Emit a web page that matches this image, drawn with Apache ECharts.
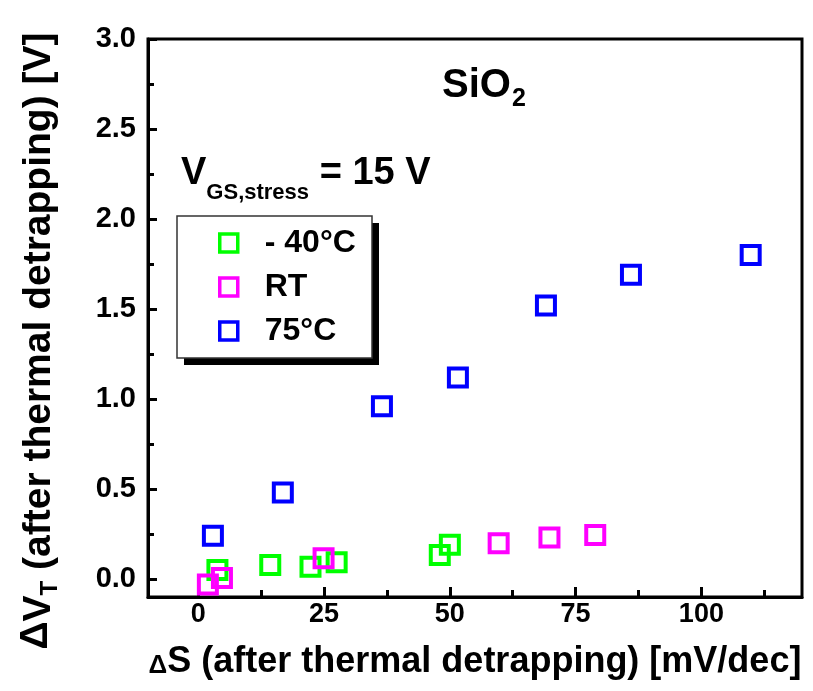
<!DOCTYPE html>
<html>
<head>
<meta charset="utf-8">
<script src="https://cdn.jsdelivr.net/npm/echarts@6/dist/echarts.min.js"></script>
<style>
    html, body { margin: 0; padding: 0; background: #fff; }
    #main { width: 813px; height: 691px; }
</style>
</head>
<body>
<div id="main"></div>
<script>
/* data: [dS (mV/dec), dVT (V)] */
var seriesNames = ['- 40°C', 'RT', '75°C'];
var seriesColors = ['#00ff00', '#ff00ff', '#0000ff'];
var minus40 = [[3.8, 0.05], [14.3, 0.078], [22.3, 0.068], [27.5, 0.093], [48, 0.133], [50, 0.19]];
var roomT = [[1.9, -0.03], [4.7, 0.006], [24.9, 0.115], [59.7, 0.198], [69.8, 0.23], [78.9, 0.244]];
var hot75 = [[2.9, 0.24], [16.8, 0.48], [36.5, 0.96], [51.6, 1.12], [69.1, 1.52], [86, 1.69], [109.8, 1.80]];
var xTicks = [0, 25, 50, 75, 100];
var xMinorTicks = [12.5, 37.5, 62.5, 87.5, 112.5];
var yTicks = [0, 0.5, 1.0, 1.5, 2.0, 2.5, 3.0];
var yMinorTicks = [0.25, 0.75, 1.25, 1.75, 2.25, 2.75];

var initChart = function () {
    var dom = document.getElementById('main');
    var myChart = echarts.init(dom);
    var font = '"Liberation Sans", Arial, sans-serif';
    var allData = [minus40, roomT, hot75];
    var series = [];
    allData.forEach(function (d, i) {
        series.push({
            name: seriesNames[i],
            type: 'scatter',
            data: d,
            symbol: 'rect',
            symbolSize: 18,
            z: 3,
            itemStyle: {
                color: 'rgba(255,255,255,0)',
                borderColor: seriesColors[i],
                borderWidth: 4,
                opacity: 1
            },
            emphasis: { disabled: true }
        });
    });

    var axisLineStyle = { color: '#000', width: 3 };
    var option = {
        animation: false,
        textStyle: { fontFamily: font },
        title: [{
            text: '{a|SiO}{b|2}',
            left: 437,
            top: 61,
            textStyle: {
                rich: {
                    a: { fontSize: 40, fontWeight: 'bold', fontFamily: font, color: '#000', verticalAlign: 'top' },
                    b: { fontSize: 25, fontFamily: font, color: '#000', verticalAlign: 'top', padding: [21, 0, 0, 1] }
                }
            }
        }, {
            text: '{a|V}{b|GS,stress}{a| = 15 V}',
            left: 176,
            top: 150,
            textStyle: {
                rich: {
                    a: { fontSize: 38, fontWeight: 'bold', fontFamily: font, color: '#000', verticalAlign: 'top' },
                    b: { fontSize: 22, fontWeight: 'bold', fontFamily: font, color: '#000', verticalAlign: 'top', padding: [27, 0, 0, 0] }
                }
            }
        }],
        graphic: [{
            type: 'rect',
            z: 1,
            shape: { x: 184, y: 223, width: 195, height: 142 },
            style: { fill: '#000' }
        }, {
            type: 'rect',
            z: 2,
            shape: { x: 177, y: 216, width: 195, height: 142 },
            style: { fill: '#fff', stroke: '#333', lineWidth: 1.5 }
        }],
        legend: {
            orient: 'vertical',
            left: 177,
            top: 216,
            z: 10,
            padding: [11, 14, 11, 41],
            itemGap: 12,
            itemWidth: 18,
            itemHeight: 18,
            itemStyle: { borderWidth: 3.5 },
            data: seriesNames,
            textStyle: {
                fontSize: 32,
                fontWeight: 'bold',
                fontFamily: font,
                color: '#000',
                padding: [0, 0, 0, 22]
            }
        },
        grid: {
            left: 148,
            right: 11,
            top: 39,
            bottom: 94,
            show: true,
            borderColor: '#000',
            borderWidth: 3,
            containLabel: false
        },
        xAxis: [{
            type: 'value',
            min: -10,
            max: 120,
            name: '{d|Δ}S (after thermal detrapping) [mV/dec]',
            nameLocation: 'middle',
            nameGap: 47,
            nameTextStyle: {
                fontSize: 36,
                fontWeight: 'bold',
                fontFamily: font,
                color: '#000',
                rich: {
                    d: { fontSize: 26, fontWeight: 'bold', fontFamily: font, color: '#000', padding: [8, 0, 0, 0] }
                }
            },
            axisLine: { onZero: false, lineStyle: axisLineStyle },
            axisTick: { inside: true, length: 10, customValues: xTicks, lineStyle: { color: '#000', width: 3 } },
            axisLabel: {
                customValues: xTicks,
                margin: 4,
                fontSize: 27,
                fontWeight: 'bold',
                fontFamily: font,
                color: '#000'
            },
            splitLine: { show: false }
        }, {
            type: 'value',
            min: -10,
            max: 120,
            position: 'bottom',
            axisLine: { show: false, onZero: false },
            axisTick: { inside: true, length: 7, customValues: xMinorTicks, lineStyle: { color: '#000', width: 3 } },
            axisLabel: { show: false },
            splitLine: { show: false }
        }],
        yAxis: [{
            type: 'value',
            min: -0.1,
            max: 3.0,
            name: '{d|Δ}V{s|T} (after thermal detrapping) [V]',
            nameLocation: 'middle',
            nameGap: 86,
            nameTextStyle: {
                fontSize: 39,
                fontWeight: 'bold',
                fontFamily: font,
                color: '#000',
                padding: [0, 46, 0, 0],
                rich: {
                    d: { fontSize: 39, fontFamily: font, color: '#000', verticalAlign: 'top' },
                    s: { fontSize: 24, fontFamily: font, color: '#000', verticalAlign: 'top', padding: [21, 0, 0, 0] }
                }
            },
            axisLine: { onZero: false, lineStyle: axisLineStyle },
            axisTick: { inside: true, length: 9, customValues: yTicks, lineStyle: { color: '#000', width: 3 } },
            axisLabel: {
                customValues: yTicks,
                margin: 12,
                fontSize: 29,
                fontWeight: 'bold',
                fontFamily: font,
                color: '#000',
                formatter: function (v) { return v.toFixed(1); }
            },
            splitLine: { show: false }
        }, {
            type: 'value',
            min: -0.1,
            max: 3.0,
            position: 'left',
            axisLine: { show: false, onZero: false },
            axisTick: { inside: true, length: 6, customValues: yMinorTicks, lineStyle: { color: '#000', width: 3 } },
            axisLabel: { show: false },
            splitLine: { show: false }
        }],
        series: series
    };
    myChart.setOption(option);
};
initChart();
</script>
</body>
</html>
